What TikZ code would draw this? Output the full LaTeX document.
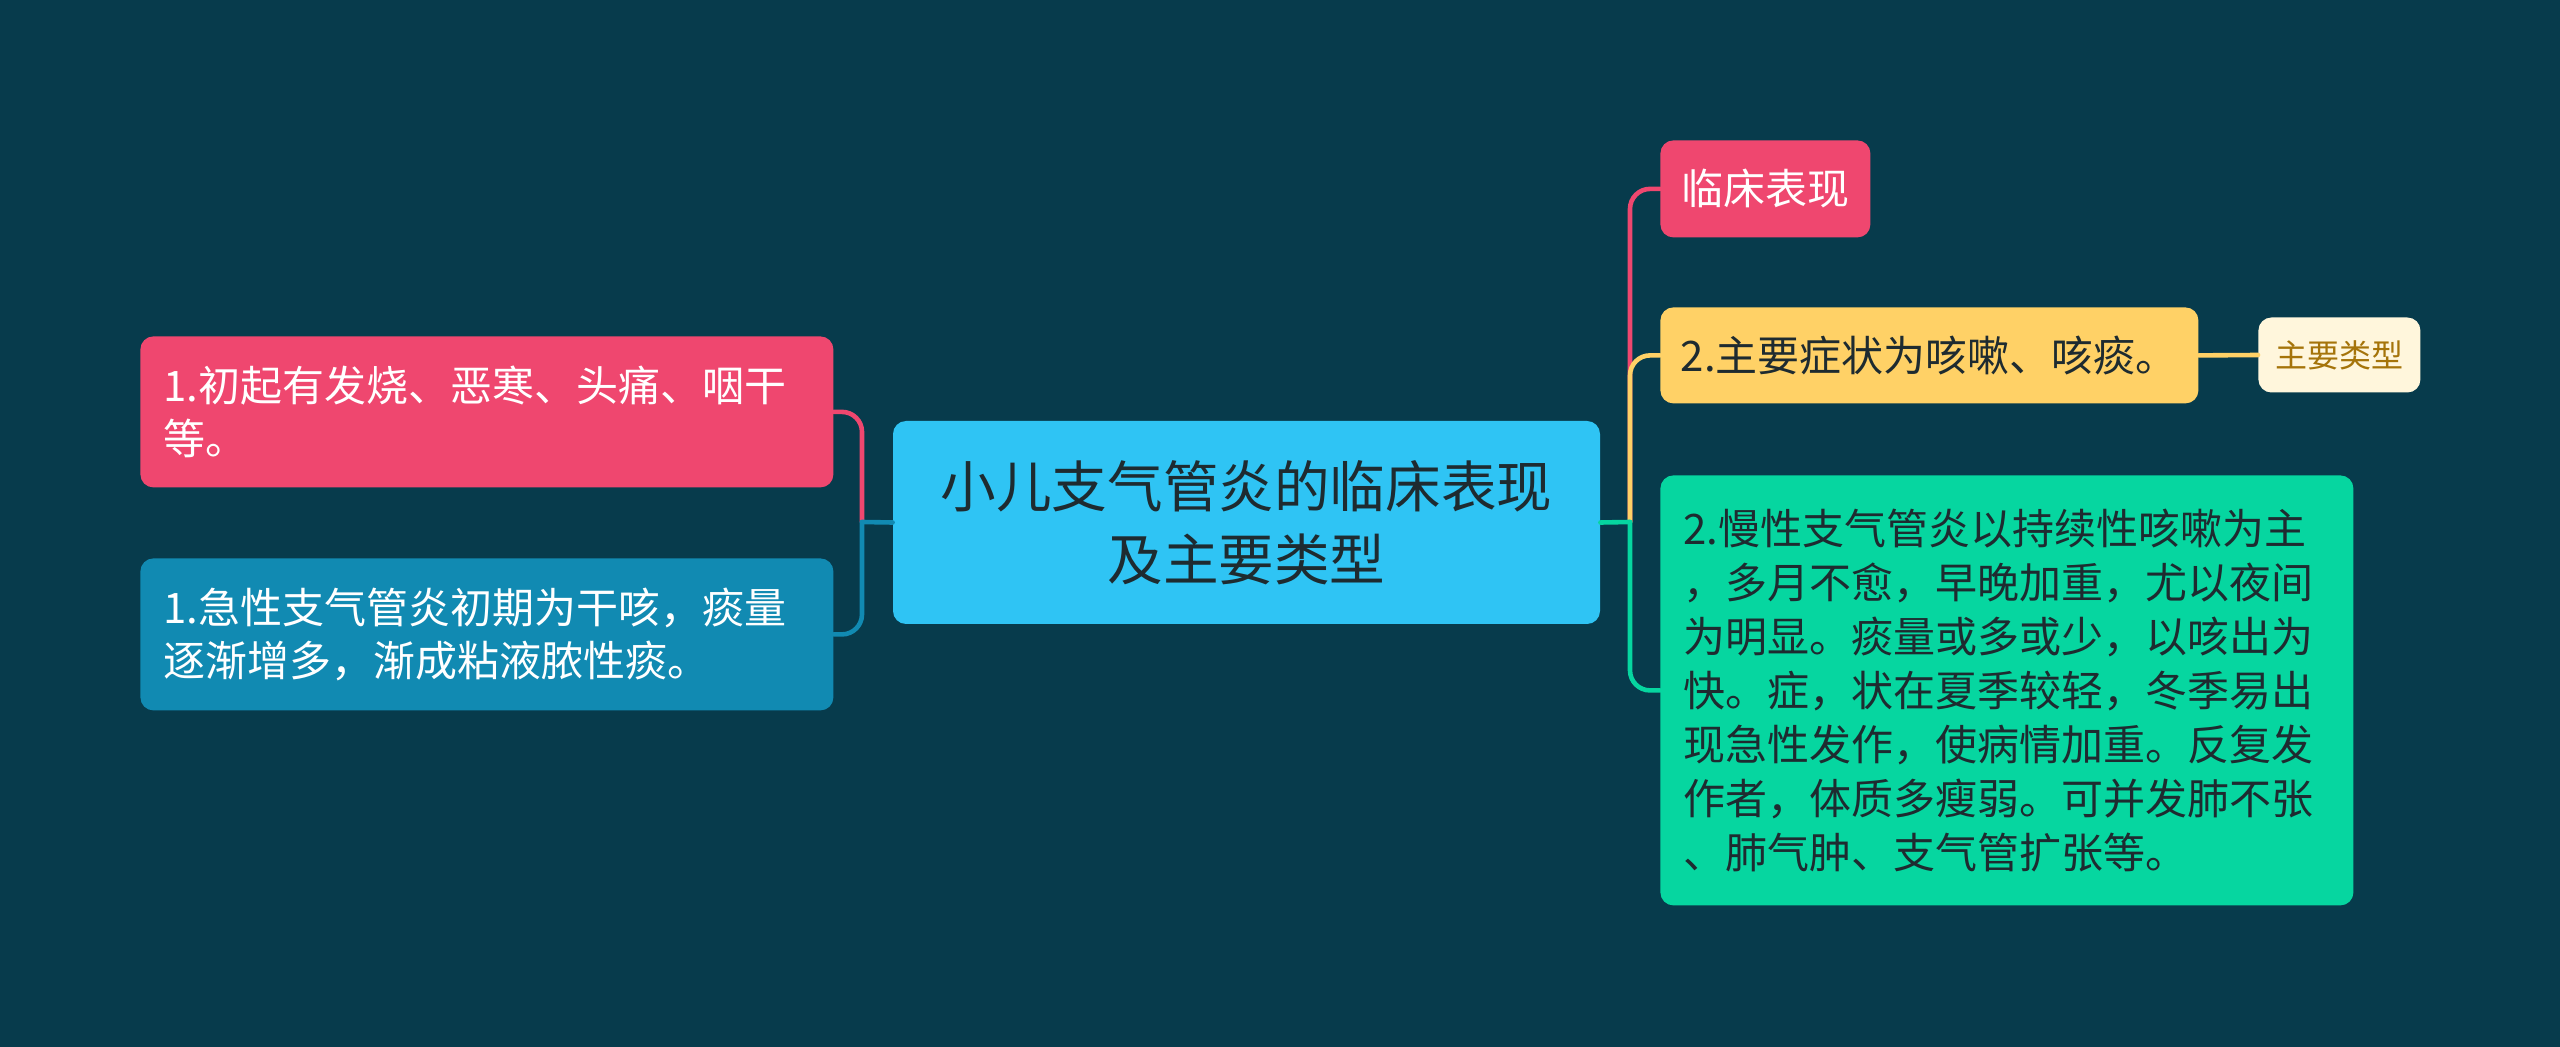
\documentclass[tikz,border=0pt]{standalone}
\usepackage{fontspec}
\newfontfamily\cjk{Noto Sans CJK SC}
\usepackage{tikz}
\usepackage{xcolor}

\definecolor{bgdark}{HTML}{073B4C}
\definecolor{redpink}{HTML}{EF476F}
\definecolor{sunyellow}{HTML}{FFD166}
\definecolor{mintgreen}{HTML}{06D6A0}
\definecolor{seablue}{HTML}{118AB2}
\definecolor{skyblue}{HTML}{2FC4F4}
\definecolor{cream}{HTML}{FFF6DC}
\definecolor{inkdark}{HTML}{1E2B30}
\definecolor{ochre}{HTML}{A5740A}

\begin{document}
\begin{tikzpicture}[x=0.5pt,y=-0.5pt,
		box/.style={rounded corners=6.5pt, inner xsep=11.5pt, inner ysep=5pt, align=left, anchor=north west, font=\cjk\fontsize{21}{26.5}\selectfont},
		link/.style={line width=2.3pt, rounded corners=10pt, line cap=round}]
\fill[bgdark] (0,0) rectangle (2560,1047);

				\node[box, fill=skyblue, text=inkdark, align=center, anchor=center, text width=330.5pt, minimum height=101.5pt, font=\cjk\fontsize{27.8}{36.7}\selectfont] (root) at (1246.5,522.5) {小儿支气管炎的临床表现\\及主要类型};

				% left side
				\node[box, fill=redpink, text=white, text width=323.5pt, minimum height=75.5pt] (fever) at (140,336) {1.初起有发烧、恶寒、头痛、咽干\\等。};
				\node[box, fill=seablue, text=white, text width=323.5pt, minimum height=76pt] (acute) at (140,558) {1.急性支气管炎初期为干咳，痰量\\逐渐增多，渐成粘液脓性痰。};

				% right side
				\node[box, fill=redpink, text=white, minimum width=104.5pt, minimum height=48.5pt, inner xsep=10.5pt] (clinic) at (1660,140) {临床表现};
				\node[box, fill=sunyellow, text=inkdark, minimum width=269pt, minimum height=48pt, inner xsep=10pt] (cough) at (1660,307) {2.主要症状为咳嗽、咳痰。};
				\node[box, fill=cream, text=ochre, anchor=west, minimum width=81pt, minimum height=37.5pt, inner xsep=8pt, font=\cjk\fontsize{16}{20}\selectfont] (kinds) at (2258,355) {主要类型};
				\node[box, fill=mintgreen, text=inkdark, text width=323.5pt, minimum height=215pt, font=\cjk\fontsize{21}{27}\selectfont] (chronic) at (1660,475) {2.慢性支气管炎以持续性咳嗽为主\\，多月不愈，早晚加重，尤以夜间\\为明显。痰量或多或少，以咳出为\\快。症，状在夏季较轻，冬季易出\\现急性发作，使病情加重。反复发\\作者，体质多瘦弱。可并发肺不张\\、肺气肿、支气管扩张等。};

				\coordinate (lj) at (862,522);
				\coordinate (rj) at (1630,522);

				\draw[link, draw=redpink] (lj) |- (fever.east);
				\draw[link, draw=seablue] (lj) |- (acute.east);
				\draw[link, draw=seablue] (root.west) -- (lj);

				\draw[link, draw=redpink] (rj) |- (clinic.west);
				\draw[link, draw=sunyellow] (rj) |- (cough.west);
				\draw[link, draw=mintgreen] (rj) |- (chronic.west);
				\draw[link, draw=mintgreen] (root.east) -- (rj);
				\draw[link, draw=sunyellow] (cough.east) -- (kinds.west);
		\end{tikzpicture}
\end{document}
